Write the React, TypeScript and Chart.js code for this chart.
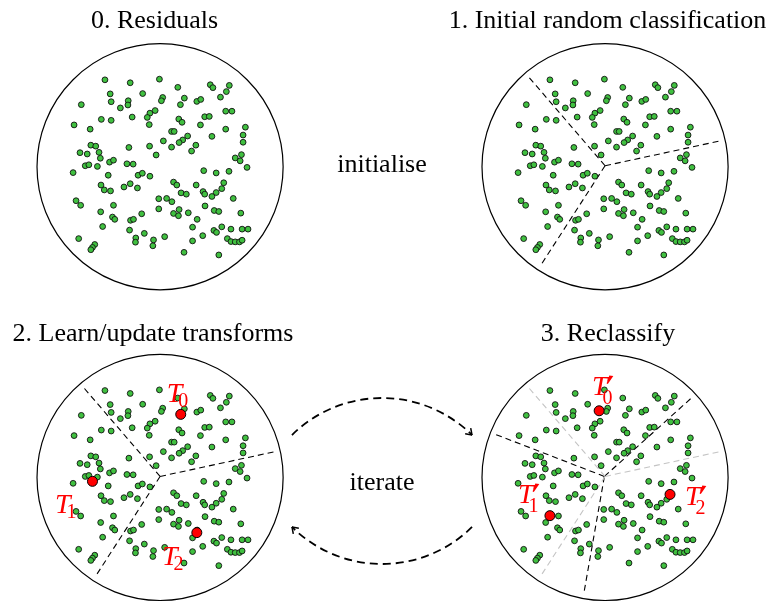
import React, { useEffect, useRef } from 'react';
import { Chart, registerables } from 'chart.js';

Chart.register(...registerables);

const W = 773;
const H = 603;

// Residual points, in residual units (circle radius = 375 units), relative to circle centre
const RESIDUALS: [number, number][] = [
  [-168, -266], [-91, -257], [-2, -268], [54, -243], [153, -251], [161, -242], [211, -249], [202, -230],
  [-152, -223], [-53, -224], [8, -212], [4, -202], [74, -210], [112, -200], [124, -206], [184, -213],
  [-240, -190], [-149, -199], [-97, -202], [-98, -189], [-121, -180], [62, -190], [-15, -172], [-31, -164],
  [-39, -151], [200, -170], [219, -170], [-179, -145], [-149, -142], [-85, -152], [57, -146], [67, -136],
  [136, -153], [150, -154], [-262, -128], [-213, -115], [-33, -129], [123, -128], [200, -115], [260, -121],
  [35, -108], [43, -108], [253, -97], [158, -93], [84, -94], [69, -82], [58, -74], [10, -79],
  [-211, -66], [-196, -63], [-95, -59], [-32, -63], [35, -60], [109, -66], [96, -48], [253, -75],
  [-244, -43], [-222, -39], [-186, -44], [-182, -26], [-12, -36], [229, -27], [248, -37], [244, -18],
  [-228, -3], [-217, -6], [-191, -1], [-154, -14], [-142, -20], [-101, -9], [-82, -8], [265, 2],
  [-265, 18], [-158, 26], [-67, 26], [-54, 20], [-31, 29], [133, 12], [171, 19], [210, 14],
  [-180, 56], [-170, 71], [-151, 74], [-110, 62], [-91, 52], [-69, 65], [41, 47], [51, 56],
  [110, 56], [194, 49], [188, 67], [64, 80], [80, 84], [131, 76], [136, 84], [171, 79], [158, 91],
  [-256, 104], [-242, 118], [-4, 98], [20, 97], [36, 107], [223, 97], [-142, 118], [137, 120],
  [-181, 138], [-56, 144], [-4, 129], [58, 131], [86, 141], [41, 143], [56, 150], [165, 134],
  [179, 137], [246, 142], [-145, 154], [-138, 161], [-90, 164], [-81, 161], [113, 161], [-175, 183],
  [99, 185], [188, 184], [-93, 194], [-48, 204], [14, 214], [164, 195], [172, 201], [216, 191],
  [250, 191], [268, 191], [-248, 220], [-74, 218], [-75, 231], [-20, 224], [-22, 242], [99, 227],
  [130, 211], [205, 220], [216, 229], [229, 230], [242, 230], [250, 225], [-199, 238], [-206, 247],
  [-211, 254], [73, 262], [179, 270],
];

// Initial (random) partition boundaries
const OLD_JUNCTION: [number, number] = [0, -3];
const OLD_ENDS: [number, number][] = [[-232, -274], [355, -80], [-195, 300]];
// Reclassified partition boundaries
const NEW_JUNCTION: [number, number] = [-2, -3];
const NEW_ENDS: [number, number][] = [[-332, -131], [263, -243], [-65, 357]];
// Transform locations
const TRANSFORMS: [number, number][] = [[63, -193], [-206, 12], [112, 169]];
const TRANSFORMS_NEW: [number, number][] = [[-18, -204], [-168, 117], [198, 52]];

const TITLES = ['0. Residuals', '1. Initial random classification', '2. Learn/update transforms', '3. Reclassify'];
const STEP_LABELS = ['initialise', 'iterate'];
const T_SUBS = ['0', '1', '2'];

// Layout
const CENTERS: [number, number][] = [[156.5, 164], [608.5, 164], [156.5, 481], [608.5, 481]];
const UNIT_RADIUS = 375;
const PX_RADIUS = 125;
const K = PX_RADIUS / UNIT_RADIUS;
const TITLE_POS: [number, number][] = [[154.5, 28], [607.5, 28], [153, 341], [608, 341]];
const STEP_POS: [number, number][] = [[382, 172], [382, 490]];
const T_POS: [number, number][] = [[166.7, 402], [55, 513], [162, 565]];
const T_POS_NEW: [number, number][] = [[592, 395], [518, 503], [685, 505]];

const GREEN = '#40c040';
const SERIF = '"Liberation Serif", "Times New Roman", serif';

function pt(ci: number, p: [number, number]) {
  return { x: CENTERS[ci][0] + p[0] * K, y: CENTERS[ci][1] + p[1] * K };
}

function lineSet(ci: number, j: [number, number], e: [number, number], color: string) {
  return {
    type: 'scatter' as const,
    data: [pt(ci, j), pt(ci, e)],
    showLine: true,
    borderColor: color,
    borderWidth: 1.1,
    borderDash: [6, 4],
    pointRadius: 0,
    order: 3,
  };
}

export default function App() {
  const ref = useRef<HTMLCanvasElement | null>(null);

  useEffect(() => {
    if (!ref.current) return;
    const datasets: any[] = [];
    // partition lines
    [1, 2].forEach((ci) => OLD_ENDS.forEach((e) => datasets.push(lineSet(ci, OLD_JUNCTION, e, '#000'))));
    OLD_ENDS.forEach((e) => datasets.push(lineSet(3, OLD_JUNCTION, e, '#c4c4c4')));
    NEW_ENDS.forEach((e) => datasets.push(lineSet(3, NEW_JUNCTION, e, '#000')));
    // residual dots
    [0, 1, 2, 3].forEach((ci) =>
      datasets.push({
        data: RESIDUALS.map((p) => pt(ci, p)),
        backgroundColor: GREEN,
        borderColor: '#111',
        borderWidth: 0.9,
        pointRadius: 2.9,
        order: 2,
      })
    );
    // transforms
    datasets.push({
      data: TRANSFORMS.map((p) => pt(2, p)),
      backgroundColor: '#ff0000',
      borderColor: '#000',
      borderWidth: 1,
      pointRadius: 5,
      order: 1,
    });
    datasets.push({
      data: TRANSFORMS_NEW.map((p) => pt(3, p)),
      backgroundColor: '#ff0000',
      borderColor: '#000',
      borderWidth: 1,
      pointRadius: 5,
      order: 1,
    });

    const decor = {
      id: 'decor',
      beforeDatasetsDraw(chart: any) {
        const { ctx, scales } = chart;
        ctx.save();
        ctx.strokeStyle = '#000';
        ctx.lineWidth = 1.2;
        CENTERS.forEach(([cx, cy]) => {
          const px = scales.x.getPixelForValue(cx);
          const py = scales.y.getPixelForValue(cy);
          const r = scales.x.getPixelForValue(cx + PX_RADIUS) - px;
          ctx.beginPath();
          ctx.arc(px, py, r, 0, Math.PI * 2);
          ctx.stroke();
        });
        ctx.restore();
      },
      afterDatasetsDraw(chart: any) {
        const { ctx } = chart;
        ctx.save();
        ctx.fillStyle = '#000';
        ctx.textAlign = 'center';
        ctx.textBaseline = 'alphabetic';
        ctx.font = `26px ${SERIF}`;
        TITLES.forEach((t, i) => ctx.fillText(t, TITLE_POS[i][0], TITLE_POS[i][1]));
        STEP_LABELS.forEach((t, i) => ctx.fillText(t, STEP_POS[i][0], STEP_POS[i][1]));

        // arrows
        const drawArc = (cx: number, cy: number, r: number, a0: number, a1: number) => {
          ctx.save();
          ctx.strokeStyle = '#000';
          ctx.lineWidth = 1.8;
          ctx.setLineDash([8, 5]);
          ctx.beginPath();
          ctx.arc(cx, cy, r, a0, a1, false);
          ctx.stroke();
          ctx.setLineDash([]);
          const tx = cx + r * Math.cos(a1);
          const ty = cy + r * Math.sin(a1);
          const dx = -Math.sin(a1);
          const dy = Math.cos(a1);
          const L = 7;
          const ang = 0.6;
          ctx.lineWidth = 1.5;
          ctx.beginPath();
          for (const s of [ang, -ang]) {
            const bx = -(dx * Math.cos(s) - dy * Math.sin(s));
            const by = -(dx * Math.sin(s) + dy * Math.cos(s));
            ctx.moveTo(tx, ty);
            ctx.lineTo(tx + bx * L, ty + by * L);
          }
          ctx.stroke();
          ctx.restore();
        };
        const deg = Math.PI / 180;
        drawArc(382, 526, 128, 225.3 * deg, 314.7 * deg);
        drawArc(382, 436, 128, 45.3 * deg, 134.7 * deg);

        // T labels
        const drawT = (x: number, y: number, sub: string, prime: boolean) => {
          ctx.save();
          ctx.fillStyle = '#ff0000';
          ctx.textAlign = 'left';
          ctx.font = `italic 28px ${SERIF}`;
          ctx.fillText('T', x, y);
          ctx.font = `20px ${SERIF}`;
          if (prime) {
            ctx.fillText(sub, x + 10.5, y + 8.5);
            ctx.beginPath();
            ctx.moveTo(x + 17.3, y - 19.5);
            ctx.lineTo(x + 21.3, y - 19);
            ctx.lineTo(x + 15.8, y - 11);
            ctx.lineTo(x + 14.6, y - 11.5);
            ctx.closePath();
            ctx.fill();
          } else {
            ctx.fillText(sub, x + 11.5, y + 5);
          }
          ctx.restore();
        };
        T_POS.forEach((p, i) => drawT(p[0], p[1], T_SUBS[i], false));
        T_POS_NEW.forEach((p, i) => drawT(p[0], p[1], T_SUBS[i], true));
        ctx.restore();
      },
    };

    const chart = new Chart(ref.current, {
      type: 'scatter',
      data: { datasets },
      options: {
        animation: false,
        responsive: false,
        maintainAspectRatio: false,
        devicePixelRatio: 1,
        events: [],
        layout: { padding: 0 },
        plugins: { legend: { display: false }, tooltip: { enabled: false } },
        scales: {
          x: { type: 'linear', min: 0, max: W, display: false },
          y: { type: 'linear', min: 0, max: H, reverse: true, display: false },
        },
      },
      plugins: [decor],
    });
    return () => chart.destroy();
  }, []);

  return (
    <div style={{ position: 'absolute', left: 0, top: 0, width: W, height: H, background: '#fff' }}>
      <canvas ref={ref} width={W} height={H} style={{ display: 'block' }} />
    </div>
  );
}
